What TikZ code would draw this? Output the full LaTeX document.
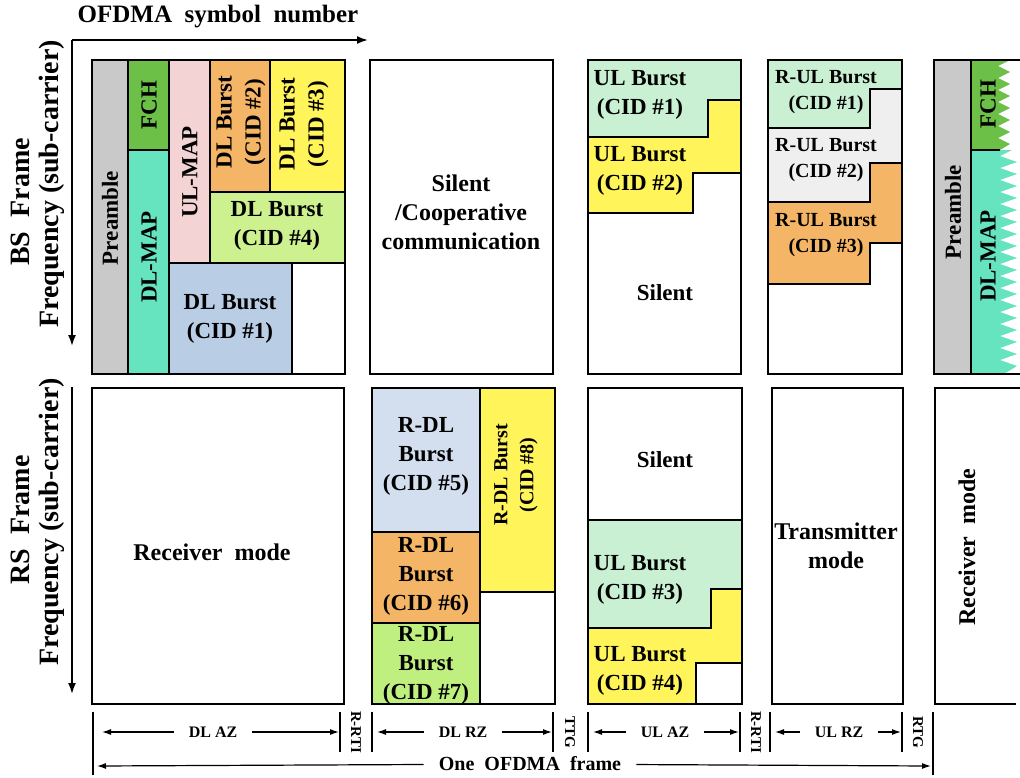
\documentclass[tikz,border=0pt]{standalone}
\usepackage{fontspec}
\setmainfont{Liberation Serif}
\usetikzlibrary{arrows.meta,positioning,calc}
\definecolor{pregrey}{HTML}{C9C9C9}
\definecolor{fchgreen}{HTML}{6CBF47}
\definecolor{mapaqua}{HTML}{66E3BF}
\definecolor{ulpink}{HTML}{F3D3D3}
\definecolor{burstorange}{HTML}{F5B566}
\definecolor{burstyellow}{HTML}{FFF45A}
\definecolor{burstlime}{HTML}{CDF18F}
\definecolor{burstblue}{HTML}{B9CDE5}
\definecolor{ulmint}{HTML}{C9F0D3}
\definecolor{rulgrey}{HTML}{EFEFEF}
\definecolor{rdlblue}{HTML}{D3DEEE}
\definecolor{rdlgreen}{HTML}{BFF07F}

\tikzset{
  frame/.style={draw=black, line width=2.6pt},
  cell/.style={draw=black, line width=1.3pt},
  lbl/.style={font=\bfseries\fontsize{23}{29}\selectfont, align=center, inner sep=0pt},
  biglbl/.style={font=\bfseries\fontsize{24}{29}\selectfont, align=center, inner sep=0pt},
  smalllbl/.style={font=\bfseries\fontsize{20}{26}\selectfont, align=center, inner sep=0pt},
  axislbl/.style={font=\bfseries\fontsize{25}{28}\selectfont, inner sep=0pt},
  sidelbl/.style={font=\bfseries\fontsize{28}{30}\selectfont, inner sep=0pt},
  axisarrow/.style={line width=1.8pt, -{Latex[length=11pt,width=8pt]}},
  dimlbl/.style={font=\bfseries\fontsize{16}{18}\selectfont, inner xsep=15pt, inner ysep=1pt},
  gaplbl/.style={font=\bfseries\fontsize{15}{17}\selectfont, inner sep=0pt},
  tick/.style={line width=1.6pt},
  dimarrow/.style={line width=1.2pt, -{Latex[length=9pt,width=6pt]}},
}

\begin{document}
\begin{tikzpicture}[x=1pt, y=-1pt]
  \useasboundingbox (0,0) rectangle (1020,777);

  % axes
  \coordinate (bsOrigin) at (72,40);
  \coordinate (bsXend) at (368,40);
  \coordinate (bsYend) at (72,346);
  \draw[axisarrow] (bsOrigin) -- (bsXend);
  \draw[axisarrow] (bsOrigin) -- (bsYend);
  \node[axislbl] (symLbl) at (218,17) {OFDMA~~symbol~~number};
  \node[sidelbl, rotate=90] (bsLbl) at (20,202) {BS~~Frame};
  \node[sidelbl, rotate=90] (bsFreq) at (52,184) {Frequency (sub-carrier)};
  \coordinate (rsOrigin) at (72,387);
  \coordinate (rsYend) at (72,694);
  \draw[axisarrow] (rsOrigin) -- (rsYend);
  \node[sidelbl, rotate=90] (rsLbl) at (20,520) {RS~~Frame};
  \node[sidelbl, rotate=90] (rsFreq) at (52,522) {Frequency (sub-carrier)};

  % BS frame -- DL access zone
  \filldraw[cell, fill=pregrey] (92,60) rectangle (128,374);
  \filldraw[cell, fill=fchgreen] (128,60) rectangle (169,150);
  \filldraw[cell, fill=mapaqua] (128,150) rectangle (169,374);
  \filldraw[cell, fill=ulpink] (169,60) rectangle (210,263);
  \filldraw[cell, fill=burstorange] (210,60) rectangle (270,192);
  \filldraw[cell, fill=burstyellow] (270,60) rectangle (345,192);
  \filldraw[cell, fill=burstlime] (210,192) rectangle (345,263);
  \filldraw[cell, fill=burstblue] (169,263) rectangle (292,374);
  \draw[cell] (292,263) rectangle (345,374);
  \draw[frame] (92,60) rectangle (345,374);
  \node[lbl, rotate=90] (bsPre) at (110,218) {Preamble};
  \node[lbl, rotate=90] (bsFch) at (149,105) {FCH};
  \node[lbl, rotate=90] (bsDlmap) at (149,257) {DL-MAP};
  \node[lbl, rotate=90] (bsUlmap) at (190,172) {UL-MAP};
  \node[lbl, rotate=90] (bsCid2) at (241,122) {DL Burst\\(CID \#2)};
  \node[lbl, rotate=90] (bsCid3) at (304,124) {DL Burst\\(CID \#3)};
  \node[lbl] (bsCid4) at (277,226) {DL Burst\\(CID \#4)};
  \node[lbl] (bsCid1) at (230,319) {DL Burst\\(CID \#1)};

  % BS frame -- DL relay zone
  \draw[frame] (370,60) rectangle (553,374);
  \node[biglbl] (bsSilent) at (461,212) {Silent\\/Cooperative\\communication};

  % BS frame -- UL access zone
  \filldraw[cell, fill=ulmint] (588,60) -- (741,60) -- (741,100) -- (708,100)
    -- (708,137) -- (588,137) -- cycle;
  \filldraw[cell, fill=burstyellow] (588,137) -- (708,137) -- (708,100) -- (741,100)
    -- (741,173) -- (693,173) -- (693,213) -- (588,213) -- cycle;
  \draw[frame] (588,60) rectangle (741,374);
  \node[lbl] (bsUl1) at (640,95) {UL Burst\\(CID \#1)};
  \node[lbl] (bsUl2) at (640,171) {UL Burst\\(CID \#2)};
  \node[lbl] (bsUlSilent) at (665,293) {Silent};

  % BS frame -- UL relay zone
  \filldraw[cell, fill=ulmint] (768,60) -- (902,60) -- (902,89) -- (870,89)
    -- (870,128) -- (768,128) -- cycle;
  \filldraw[cell, fill=rulgrey] (768,128) -- (870,128) -- (870,89) -- (902,89)
    -- (902,163) -- (870,163) -- (870,202) -- (768,202) -- cycle;
  \filldraw[cell, fill=burstorange] (768,202) -- (870,202) -- (870,163) -- (902,163)
    -- (902,243) -- (870,243) -- (870,284) -- (768,284) -- cycle;
  \draw[frame] (768,60) rectangle (902,374);
  \node[smalllbl] (bsRul1) at (826,92) {R-UL Burst\\(CID \#1)};
  \node[smalllbl] (bsRul2) at (826,160) {R-UL Burst\\(CID \#2)};
  \node[smalllbl] (bsRul3) at (826,235) {R-UL Burst\\(CID \#3)};

  % BS frame -- next frame (cut off)
  \fill[pregrey] (934,60) rectangle (971,374);
  \fill[fchgreen] (971,60) -- (1010,60)
    \foreach \k in {0,...,6} { -- (998,{66+\k*12}) -- (1010,{72+\k*12}) }
    -- (1000,150) -- (971,150) -- cycle;
  \fill[mapaqua] (971,150) -- (1012,150)
    \foreach \k in {0,...,17} { -- (1000,{156+\k*12}) -- (1017,{162+\k*12}) }
    -- (1004,374) -- (971,374) -- cycle;
  \draw[cell] (971,60) -- (971,374);
  \draw[cell] (971,150) -- (1000,150);
  \draw[frame] (1020,60) -- (934,60) -- (934,374) -- (1020,374);
  \node[lbl, rotate=90] (nxPre) at (953,212) {Preamble};
  \node[lbl, rotate=90] (nxFch) at (988,104) {FCH};
  \node[lbl, rotate=90] (nxDlmap) at (988,256) {DL-MAP};

  % RS frame -- DL access zone
  \draw[frame] (92,388) rectangle (344,704);
  \node[biglbl] (rsRecv) at (212,552) {Receiver~~mode};

  % RS frame -- DL relay zone
  \filldraw[cell, fill=rdlblue] (372,388) rectangle (480,532);
  \filldraw[cell, fill=burstorange] (372,532) rectangle (480,623);
  \filldraw[cell, fill=rdlgreen] (372,623) rectangle (480,704);
  \filldraw[cell, fill=burstyellow] (480,388) rectangle (555,592);
  \draw[frame] (372,388) rectangle (555,704);
  \node[lbl] (rsCid5) at (426,456) {R-DL\\Burst\\(CID \#5)};
  \node[lbl] (rsCid6) at (426,576) {R-DL\\Burst\\(CID \#6)};
  \node[lbl] (rsCid7) at (426,665) {R-DL\\Burst\\(CID \#7)};
  \node[smalllbl, rotate=90] (rsCid8) at (516,475) {R-DL Burst\\(CID \#8)};

  % RS frame -- UL access zone
  \filldraw[cell, fill=ulmint] (588,520) -- (742,520) -- (742,589) -- (711,589)
    -- (711,628) -- (588,628) -- cycle;
  \filldraw[cell, fill=burstyellow] (588,628) -- (711,628) -- (711,589) -- (742,589)
    -- (742,663) -- (696,663) -- (696,704) -- (588,704) -- cycle;
  \draw[frame] (588,388) rectangle (742,704);
  \node[lbl] (rsSilent) at (665,460) {Silent};
  \node[lbl] (rsUl3) at (640,580) {UL Burst\\(CID \#3)};
  \node[lbl] (rsUl4) at (640,671) {UL Burst\\(CID \#4)};

  % RS frame -- UL relay zone
  \draw[frame] (772,388) rectangle (903,704);
  \node[biglbl] (rsTrans) at (836,546) {Transmitter\\mode};

  % RS frame -- next frame (cut off)
  \draw[cell] (1020,388) -- (935,388) -- (935,704) -- (1016,704);
  \node[biglbl, rotate=90] (nxRecv) at (967,547) {Receiver~~mode};

  % zone ruler
  \foreach \tx/\tn in {93/tA,340/tB,372/tC,553/tD,588/tE,740/tF,770/tG,902/tH,933/tI}
    \coordinate (\tn) at (\tx,712);
  \foreach \tn in {tB,tC,tD,tE,tF,tG,tH}
    \draw[tick] (\tn) -- ++(0,40);
  \draw[tick] (tA) -- ++(0,63);
  \draw[tick] (tI) -- ++(0,63);

  \node[dimlbl] (dlAz) at (213,732) {DL AZ};
  \coordinate (dlAzL) at (102,732);
  \coordinate (dlAzR) at (339,732);
  \draw[dimarrow] (dlAz) -- (dlAzL);
  \draw[dimarrow] (dlAz) -- (dlAzR);

  \node[dimlbl] (dlRz) at (463,732) {DL RZ};
  \coordinate (dlRzL) at (377,732);
  \coordinate (dlRzR) at (552,732);
  \draw[dimarrow] (dlRz) -- (dlRzL);
  \draw[dimarrow] (dlRz) -- (dlRzR);

  \node[dimlbl] (ulAz) at (665,732) {UL AZ};
  \coordinate (ulAzL) at (593,732);
  \coordinate (ulAzR) at (739,732);
  \draw[dimarrow] (ulAz) -- (ulAzL);
  \draw[dimarrow] (ulAz) -- (ulAzR);

  \node[dimlbl] (ulRz) at (839,732) {UL RZ};
  \coordinate (ulRzL) at (775,732);
  \coordinate (ulRzR) at (901,732);
  \draw[dimarrow] (ulRz) -- (ulRzL);
  \draw[dimarrow] (ulRz) -- (ulRzR);

  \node[gaplbl, rotate=-90] (gapRrti1) at (356,732) {R-RTI};
  \node[gaplbl, rotate=-90] (gapTtg) at (570,732) {TTG};
  \node[gaplbl, rotate=-90] (gapRrti2) at (756,732) {R-RTI};
  \node[gaplbl, rotate=-90] (gapRtg) at (918,732) {RTG};

  \node[dimlbl, font=\bfseries\fontsize{20}{22}\selectfont] (frameLbl) at (530,764) {One~~OFDMA~~frame};
  \coordinate (frameL) at (97,766);
  \coordinate (frameR) at (931,766);
  \draw[dimarrow] (frameLbl) -- (frameL);
  \draw[dimarrow] (frameLbl) -- (frameR);
\end{tikzpicture}
\end{document}
